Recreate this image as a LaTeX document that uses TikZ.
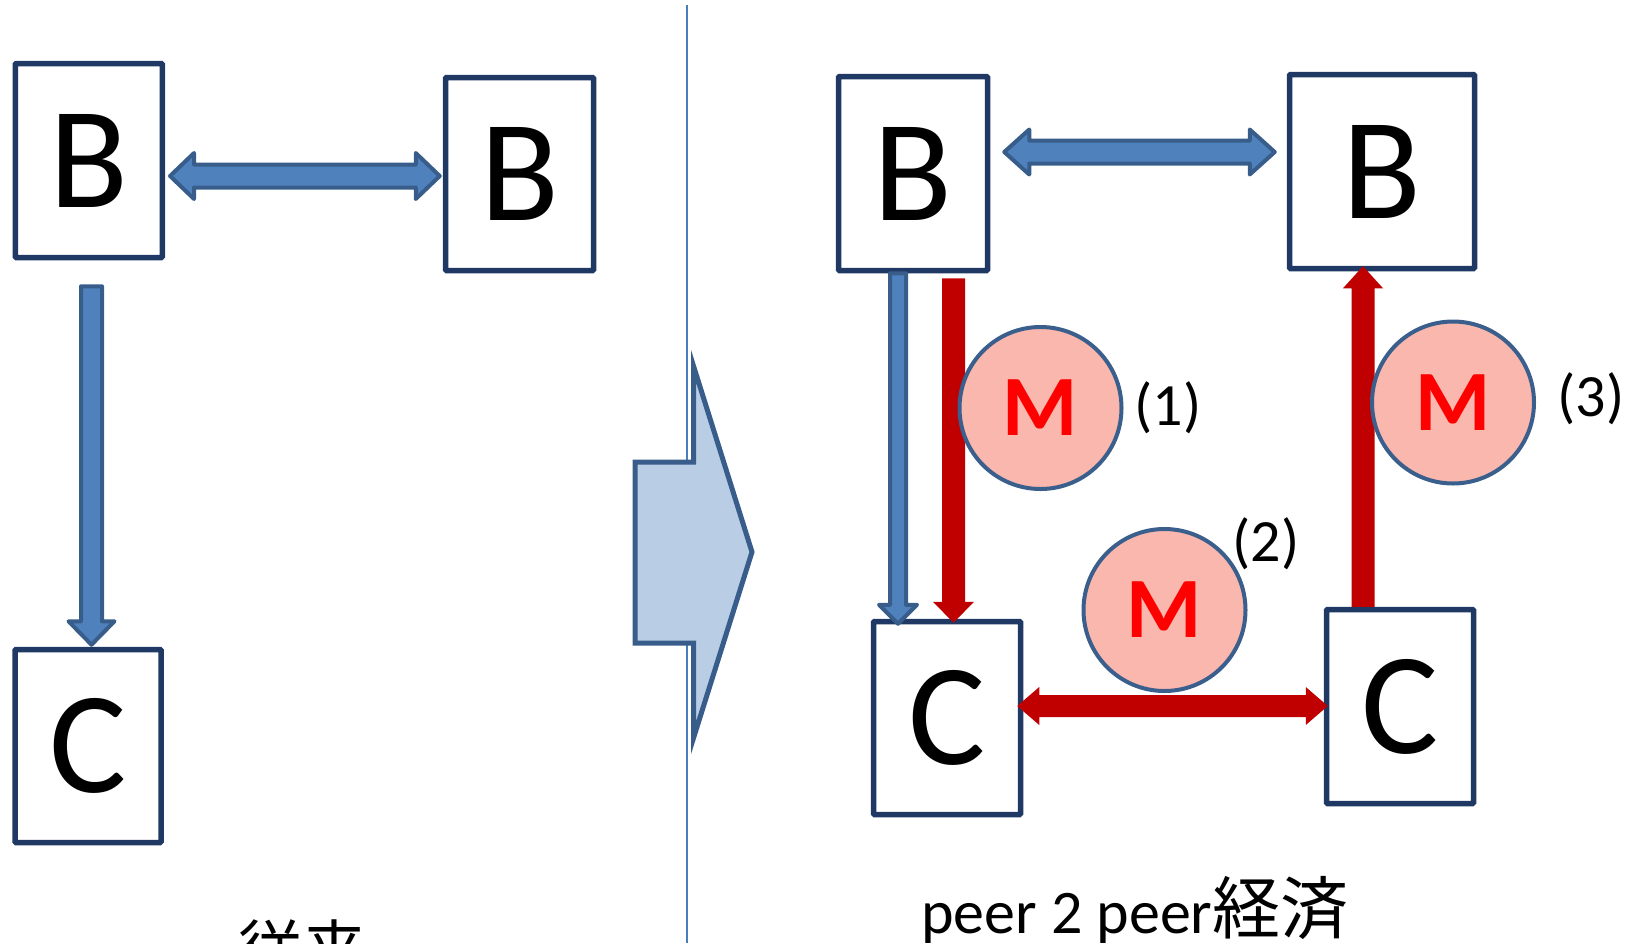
\documentclass[tikz,border=0pt]{standalone}
\usepackage{fontspec}
\setmainfont{Carlito}
\newfontfamily\cjk{Noto Sans CJK JP}
\usetikzlibrary{calc}
\definecolor{boxc}{RGB}{31,56,100}
\definecolor{bfill}{RGB}{79,129,189}
\definecolor{bdraw}{RGB}{56,93,138}
\definecolor{rarr}{RGB}{192,0,0}
\definecolor{circfill}{RGB}{249,183,173}
\definecolor{circc}{RGB}{58,95,140}
\definecolor{mred}{RGB}{255,0,0}
\definecolor{bigfill}{RGB}{185,205,229}
\definecolor{divc}{RGB}{74,126,187}
\newcommand\bigf{\fontsize{145}{145}\selectfont}
\newcommand\mf{\fontsize{86}{86}\selectfont\bfseries}
\newcommand\labf{\fontsize{60}{64}\selectfont}
% double block arrow: start, end, half shaft, half head, head length, style
\newcommand\dblarrow[6]{%
  \coordinate (da-s) at (#1);
  \coordinate (da-e) at (#2);
  \coordinate (da-hs) at ($(da-s)!#5!(da-e)$);
  \coordinate (da-he) at ($(da-e)!#5!(da-s)$);
  \draw[#6] (da-s) -- ($(da-hs)!#4!90:(da-e)$) -- ($(da-hs)!#3!90:(da-e)$)
    -- ($(da-he)!#3!-90:(da-s)$) -- ($(da-he)!#4!-90:(da-s)$) -- (da-e)
    -- ($(da-he)!#4!90:(da-s)$) -- ($(da-he)!#3!90:(da-s)$)
    -- ($(da-hs)!#3!-90:(da-e)$) -- ($(da-hs)!#4!-90:(da-e)$) -- cycle;}
% single block arrow: start, tip, half shaft, half head, head length, style
\newcommand\sglarrow[6]{%
  \coordinate (sa-s) at (#1);
  \coordinate (sa-e) at (#2);
  \coordinate (sa-h) at ($(sa-e)!#5!(sa-s)$);
  \draw[#6] ($(sa-s)!#3!90:(sa-e)$) -- ($(sa-h)!#3!-90:(sa-s)$)
    -- ($(sa-h)!#4!-90:(sa-s)$) -- (sa-e) -- ($(sa-h)!#4!90:(sa-s)$)
    -- ($(sa-h)!#3!90:(sa-s)$) -- ($(sa-s)!#3!-90:(sa-e)$) -- cycle;}
\tikzset{
  box/.style={draw=boxc, line width=5.5pt, fill=white, inner sep=0pt,
    rounded corners=1pt, font=\bigf, text=black},
  mcirc/.style={circle, draw=circc, line width=4pt, fill=circfill,
    minimum size=162pt, inner sep=0pt, text=mred, font=\mf},
  lab/.style={font=\labf, inner sep=0pt, text=black},
  bluearr/.style={fill=bfill, draw=bdraw, line width=4pt, line join=round},
  redarr/.style={fill=rarr, draw=none},
  bigarr/.style={fill=bigfill, draw=bdraw, line width=5pt, line join=miter},
  divline/.style={draw=divc, line width=2pt},
}
\begin{document}
\begin{tikzpicture}[x=1pt, y=-1pt]
\useasboundingbox (0,0) rectangle (1634,943);
\clip (0,0) rectangle (1634,943);
% divider and transition arrow
\draw[divline] (687,5) -- (687,943);
\draw[bigarr] (635,462) -- (693.5,462) -- (693.5,366) -- (752,552)
  -- (693.5,738) -- (693.5,643) -- (635,643) -- cycle;
% left panel
\node[box, minimum width=147pt, minimum height=194pt] (bL) at (88.8,160.5) {B};
\node[box, minimum width=148pt, minimum height=193pt] (bR) at (519.5,174) {B};
\node[box, minimum width=146pt, minimum height=193pt] (cL) at (88,746) {C};
\dblarrow{$(bL.east)+(5,15.5)$}{$(bR.west)+(-3,2)$}{11.5pt}{23pt}{24pt}{bluearr}
\sglarrow{$(bL.south)+(2.7,26)$}{$(cL.north)+(3.5,-2)$}{10.5pt}{23pt}{23.5pt}{bluearr}
\node[anchor=base, inner sep=0pt, font=\cjk\fontsize{64}{66}\selectfont] (t1) at (302,973) {従来};
% right panel
\node[box, minimum width=149pt, minimum height=194pt] (b1) at (913,173.5) {B};
\node[box, minimum width=185pt, minimum height=194pt] (b2) at (1382,171.5) {B};
\node[box, minimum width=147pt, minimum height=193pt] (c1) at (947,718) {C};
\node[box, minimum width=147pt, minimum height=194pt] (c2) at (1400,706.5) {C};
\dblarrow{$(b1.east)+(14,-21.5)$}{$(b2.west)+(-12,-19.5)$}{11.5pt}{22.5pt}{25pt}{bluearr}
\sglarrow{$(b1.south)+(-15,0)$}{$(c1.north)+(-49,5)$}{8pt}{19pt}{19pt}{bluearr}
\sglarrow{$(b1.south)+(40.5,5)$}{$(c1.north)+(6.5,4)$}{11.5pt}{20.5pt}{21pt}{redarr}
\dblarrow{$(c1.east)+(-6,-12)$}{$(c2.west)+(4,-0.5)$}{11pt}{19pt}{22pt}{redarr}
\sglarrow{$(c2.north)+(-37,0)$}{$(b2.south)+(-19,-5)$}{11.5pt}{20pt}{22pt}{redarr}
\node[mcirc] (m1) at (1040.5,408) {M};
\node[mcirc] (m2) at (1164.5,610) {M};
\node[mcirc] (m3) at (1453,402.5) {M};
\node[lab] (l1) at (1168,408) {(1)};
\node[lab] (l2) at (1266,544) {(2)};
\node[lab] (l3) at (1591,399) {(3)};
\node[anchor=base west, inner sep=0pt, font=\fontsize{62}{64}\selectfont] (t2) at (921,933)
  {peer 2 peer{\cjk\fontsize{68}{70}\selectfont 経済}};
\end{tikzpicture}
\end{document}
